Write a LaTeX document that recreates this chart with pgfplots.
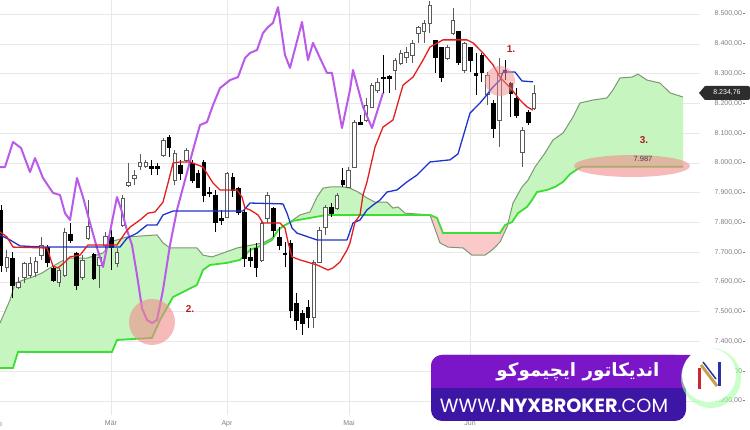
\documentclass[border=0pt]{standalone}
\usepackage{pgfplots}
\pgfplotsset{compat=1.18}
\usepackage{pgfplotstable}
\usepgfplotslibrary{fillbetween}
\usetikzlibrary{calc}
\usepackage{graphicx}
\usepackage{fontspec}
\setmainfont{Liberation Sans}
\newfontfamily\arabicfont[Script=Arabic]{DejaVu Sans}
\newfontfamily\urlfont{Poppins}
\TeXXeTstate=1

\definecolor{cloudgreen}{RGB}{198,245,192}
\definecolor{cloudpink}{RGB}{250,202,202}
\definecolor{spanA}{RGB}{125,150,115}
\definecolor{spanB}{RGB}{60,222,50}
\definecolor{tenkan}{RGB}{228,30,30}
\definecolor{kijun}{RGB}{30,50,205}
\definecolor{chikou}{RGB}{185,90,235}
\definecolor{bulledge}{RGB}{90,90,90}
\definecolor{bannerpurple}{RGB}{122,22,200}
\definecolor{bannerindigo}{RGB}{62,22,165}
\definecolor{annored}{RGB}{178,30,30}
\definecolor{annopink}{RGB}{240,140,140}
\definecolor{tagdark}{RGB}{45,45,45}
\definecolor{nblue}{RGB}{40,50,160}
\definecolor{nred}{RGB}{205,40,50}
\definecolor{ngold}{RGB}{200,160,80}

% candles: x o h l c
\pgfplotstableread{
x o h l c
6.8 7650 7707 7633 7684
18.4 7583 7617 7576 7600
24.2 7617 7667 7596 7664
30.0 7623 7684 7613 7664
35.8 7633 7684 7617 7670
41.6 7690 7751 7674 7724
58.9 7600 7647 7583 7640
64.7 7623 7781 7617 7768
82.1 7617 7690 7606 7674
87.9 7747 7875 7741 7788
99.5 7657 7697 7580 7684
105.3 7724 7768 7707 7754
116.9 7664 7714 7650 7700
122.7 7791 7892 7784 7882
128.4 7926 7999 7919 7936
134.2 7949 7976 7926 7959
140.0 7989 8030 7976 8003
145.8 7989 8010 7983 8003
163.2 8026 8083 8020 8077
174.8 7942 8043 7926 8033
186.4 8010 8050 8003 8043
226.9 7818 7969 7815 7966
261.7 7674 7808 7667 7798
267.5 7815 7902 7798 7892
313.8 7482 7674 7445 7667
319.6 7667 7784 7664 7774
325.4 7784 7858 7758 7852
337.0 7848 7899 7842 7892
348.6 7919 7986 7915 7976
354.4 7986 8144 7983 8137
366.0 8144 8218 8137 8194
371.8 8188 8268 8188 8261
377.5 8245 8285 8235 8272
394.9 8312 8352 8245 8345
400.7 8335 8379 8329 8369
406.5 8356 8389 8335 8372
412.3 8362 8413 8335 8403
418.1 8436 8460 8403 8456
423.9 8440 8480 8403 8470
429.7 8470 8545 8436 8530
447.1 8352 8396 8345 8389
452.9 8436 8520 8429 8480
464.4 8312 8406 8302 8403
487.6 8231 8305 8194 8295
499.2 8144 8352 8053 8302
522.4 8036 8120 7986 8110
534.0 8184 8261 8177 8234.76
}\bulls

\pgfplotstableread{
x o h l c
1.0 7842 7858 7633 7657
12.6 7680 7700 7546 7590
47.3 7717 7724 7650 7667
53.1 7647 7650 7600 7606
70.5 7761 7798 7731 7741
76.3 7697 7700 7573 7590
93.7 7694 7697 7606 7613
111.1 7751 7774 7640 7717
151.6 7989 8010 7959 7983
157.4 7989 7999 7959 7983
169.0 8087 8093 8020 8053
180.6 7993 8010 7942 7966
192.2 7999 8010 7932 7942
198.0 7966 7976 7915 7919
203.8 8003 8010 7868 7892
209.5 7902 7919 7885 7899
215.3 7892 7909 7768 7801
221.1 7815 7842 7791 7808
232.7 7952 7966 7885 7909
238.5 7915 7919 7825 7835
244.3 7835 7842 7650 7680
250.1 7684 7714 7650 7674
255.9 7714 7731 7617 7650
273.3 7848 7852 7751 7774
279.1 7751 7784 7707 7724
284.9 7697 7734 7650 7694
290.7 7731 7741 7479 7506
296.4 7529 7563 7439 7472
302.2 7496 7506 7422 7462
308.0 7516 7539 7445 7482
331.2 7852 7865 7818 7831
342.8 7942 7983 7919 7929
360.2 8137 8161 8127 8130
383.3 8288 8362 8235 8285
389.1 8292 8295 8235 8285
435.5 8413 8413 8302 8356
441.3 8389 8389 8272 8288
458.6 8440 8440 8329 8339
470.2 8389 8389 8305 8345
476.0 8302 8369 8228 8295
481.8 8362 8369 8272 8305
493.4 8201 8211 8083 8117
505.0 8312 8345 8278 8305
510.8 8268 8272 8154 8235
516.6 8218 8251 8151 8161
528.2 8171 8177 8127 8137
}\bears

% Chikou span
\pgfplotstableread{
x y
0 7986
5 7986
13 8070
21 8050
30 7969
35 8016
43 7949
53 7899
60 7892
65 7831
70 7808
77 7949
83 7885
90 7798
97 7714
103 7650
110 7768
117 7885
122 7835
127 7774
132 7724
137 7623
142 7512
147 7472
152 7462
157 7472
163 7573
170 7724
177 7842
185 7942
193 8043
200 8127
207 8137
213 8194
220 8251
230 8278
238 8288
245 8352
250 8369
257 8379
263 8436
268 8456
273 8470
278 8523
285 8362
290 8319
302 8473
308 8345
313 8403
320 8352
327 8302
332 8302
342 8117
350 8245
353 8312
363 8188
372 8117
383 8235
}\chikou

% Tenkan-sen
\pgfplotstableread{
x y
0 7768
7 7751
13 7717
47 7714
53 7653
58 7647
65 7667
70 7684
80 7690
88 7724
117 7724
125 7764
130 7784
140 7808
148 7831
155 7835
163 7868
168 7932
173 7999
180 8003
190 8003
203 7986
213 7932
220 7909
237 7909
242 7885
245 7848
250 7842
258 7825
263 7798
280 7798
285 7781
288 7734
292 7684
300 7674
317 7657
328 7640
333 7647
340 7667
347 7707
350 7731
355 7801
360 7825
363 7892
367 7936
375 8053
383 8120
393 8144
403 8261
413 8288
423 8345
430 8389
443 8413
467 8413
473 8403
483 8369
493 8329
500 8288
512 8245
520 8211
527 8188
533 8177
}\tenkan

% Kijun-sen
\pgfplotstableread{
x y
0 7758
10 7741
20 7721
43 7717
120 7717
127 7747
137 7764
147 7791
157 7791
163 7825
173 7838
243 7838
250 7865
283 7862
287 7831
292 7781
297 7764
317 7741
347 7741
353 7798
360 7808
367 7842
373 7858
380 7875
387 7902
397 7909
407 7936
417 7959
430 8003
450 8010
458 8030
463 8087
470 8167
480 8201
485 8221
493 8255
500 8278
503 8305
515 8305
522 8275
533 8272
}\kijun

% Senkou span A
\pgfplotstableread{
x y
0 7462
10 7539
15 7596
23 7606
33 7617
42 7630
50 7647
67 7680
87 7680
103 7697
113 7737
127 7751
157 7758
163 7731
170 7714
197 7714
203 7690
212 7684
223 7697
237 7714
247 7721
263 7731
272 7747
280 7781
290 7801
300 7825
310 7835
317 7885
323 7915
330 7919
343 7919
350 7915
358 7902
367 7882
375 7868
387 7868
393 7848
398 7852
405 7831
430 7825
440 7731
448 7717
463 7714
472 7690
485 7690
492 7707
500 7734
507 7784
513 7865
522 7919
528 7942
535 7986
545 8033
553 8077
563 8100
573 8154
580 8201
593 8211
607 8218
613 8245
620 8285
632 8288
638 8298
647 8278
660 8268
670 8235
683 8221
}\spanA

% Senkou span B
\pgfplotstableread{
x y
0 7311
13 7311
18 7365
112 7365
117 7405
152 7412
160 7472
173 7549
183 7566
197 7590
203 7640
210 7657
227 7664
240 7674
250 7707
263 7724
272 7741
278 7774
285 7791
293 7805
310 7815
327 7825
343 7825
430 7825
437 7815
443 7764
500 7764
505 7791
512 7801
518 7831
527 7852
532 7875
537 7902
547 7909
555 7919
563 7936
570 7962
577 7978
582 7987
683 7987
}\spanB

\newcommand\drawcandles[3]{% table, body fill, edge colour
  \pgfplotstablegetrowsof{#1}%
  \pgfmathtruncatemacro{\nrows}{\pgfplotsretval-1}%
  \pgfplotsforeachungrouped \r in {0,...,\nrows}{%
    \pgfplotstablegetelem{\r}{x}\of{#1}\let\cx\pgfplotsretval
    \pgfplotstablegetelem{\r}{o}\of{#1}\let\co\pgfplotsretval
    \pgfplotstablegetelem{\r}{h}\of{#1}\let\ch\pgfplotsretval
    \pgfplotstablegetelem{\r}{l}\of{#1}\let\cl\pgfplotsretval
    \pgfplotstablegetelem{\r}{c}\of{#1}\let\cc\pgfplotsretval
    \pgfmathsetmacro{\xa}{\cx-1.8}%
    \pgfmathsetmacro{\xb}{\cx+1.8}%
    \edef\temp{\noexpand\addplot[#3, line width=0.8pt, forget plot] coordinates {(\cx,\cl) (\cx,\ch)};
      \noexpand\addplot[draw=#3, fill=#2, line width=0.7pt, forget plot] coordinates {(\xa,\co) (\xb,\co) (\xb,\cc) (\xa,\cc)} -- cycle;}%
    \temp
  }%
}

\begin{document}
\begin{tikzpicture}
\begin{axis}[
  scale only axis, width=700pt, height=415pt,
  xmin=0, xmax=700, ymin=7153, ymax=8547,
  axis line style={draw=none},
  major tick length=0pt,
  xtick={111,227,349,470},
  xticklabels={Mär,Apr,Mai,Jun},
  ytick={7200,7300,...,8500},
  xmajorgrids, ymajorgrids,
  grid style={color=black!9, line width=0.5pt},
  yticklabel pos=right,
  yticklabel={\pgfmathprintnumber[fixed,fixed zerofill,precision=2,1000 sep={.},dec sep={,},assume math mode=true]{\tick}\hspace{1pt}\rule[2pt]{2.5pt}{0.5pt}},
  yticklabel style={anchor=east, xshift=49pt, font=\fontsize{7}{8}\selectfont, text=black!50},
  xticklabel style={font=\fontsize{7}{8}\selectfont, text=black!50, yshift=-2pt},
]
\coordinate (ll) at (rel axis cs:0,0);
% cloud
\addplot[name path=A, draw=none, forget plot] table[x=x,y=y] {\spanA};
\addplot[name path=B, draw=none, forget plot] table[x=x,y=y] {\spanB};
\addplot[fill=cloudgreen, draw=none, forget plot] fill between[of=A and B, soft clip={domain=0:430}];
\addplot[fill=cloudpink, draw=none, forget plot] fill between[of=A and B, soft clip={domain=430:508}];
\addplot[fill=cloudgreen, draw=none, forget plot] fill between[of=A and B, soft clip={domain=508:683}];
\addplot[spanA, line width=1pt, forget plot] table[x=x,y=y] {\spanA};
\addplot[spanB, line width=1.8pt, forget plot] table[x=x,y=y] {\spanB};
% candles
\drawcandles{\bulls}{white}{bulledge}
\drawcandles{\bears}{black}{black}
% lines
\addplot[chikou, line width=2pt, line join=round, forget plot] table[x=x,y=y] {\chikou};
\addplot[kijun, line width=1.3pt, line join=round, forget plot] table[x=x,y=y] {\kijun};
\addplot[tenkan, line width=1.3pt, line join=round, forget plot] table[x=x,y=y] {\tenkan};
\end{axis}

\begin{scope}[shift={($(ll)+(0pt,-15pt)$)}, x=1pt, y=1pt]
% Feb label partly outside
\node[font=\fontsize{7}{8}\selectfont, text=black!50] at (-4,6) {Feb};

% annotations
\fill[annopink, opacity=0.5] (500,349) circle (15);
\node[text=annored, font=\bfseries\fontsize{10}{12}\selectfont] at (511,381) {1.};
\fill[annopink, opacity=0.6] (152,108) circle (23);
\node[text=annored, font=\bfseries\fontsize{10}{12}\selectfont] at (190,121) {2.};
\fill[annopink, opacity=0.6] (632,264) ellipse (58 and 11);
\node[text=annored, font=\bfseries\fontsize{10}{12}\selectfont] at (644,290) {3.};
\node[text=black!75, font=\fontsize{7.5}{9}\selectfont] at (643,271) {7.987};

% price tag
\fill[tagdark, rounded corners=2pt] (704,330) rectangle (750,344);
\fill[tagdark] (705,330) -- (699,337) -- (705,344) -- cycle;
\node[text=white, font=\fontsize{7}{8}\selectfont] at (727,337) {8.234,76};

% banner
\fill[bannerindigo, rounded corners=11pt] (431,9) rectangle (686,75);
\fill[bannerpurple, rounded corners=11pt] (431,42) rectangle (702,75);
\fill[bannerpurple] (431,42) rectangle (450,55);
\node[text=white] at (578,58) {\resizebox{163pt}{!}{\arabicfont\bfseries\beginR اندیکاتور ایچیموکو\endR}};
\node[text=white] at (554,24) {\resizebox{228pt}{!}{\urlfont WWW.\textbf{NYXBROKER}.COM}};

% logo
\fill[green!35!white, opacity=0.6] (711,52) circle (30);
\fill[white] (709,55) circle (27);
\draw[line width=3pt, nred] (699,41) -- (699,62);
\draw[line width=3pt, ngold] (701,65) -- (717,44);
\draw[line width=3pt, nblue] (719,44) -- (719,68);
\draw[line width=1.5pt, nblue] (703,68) -- (716,51);
\end{scope}

\pgfresetboundingbox
\path[use as bounding box] ($(ll)+(0pt,-15pt)$) rectangle ($(ll)+(750pt,415pt)$);
\end{tikzpicture}
\end{document}
